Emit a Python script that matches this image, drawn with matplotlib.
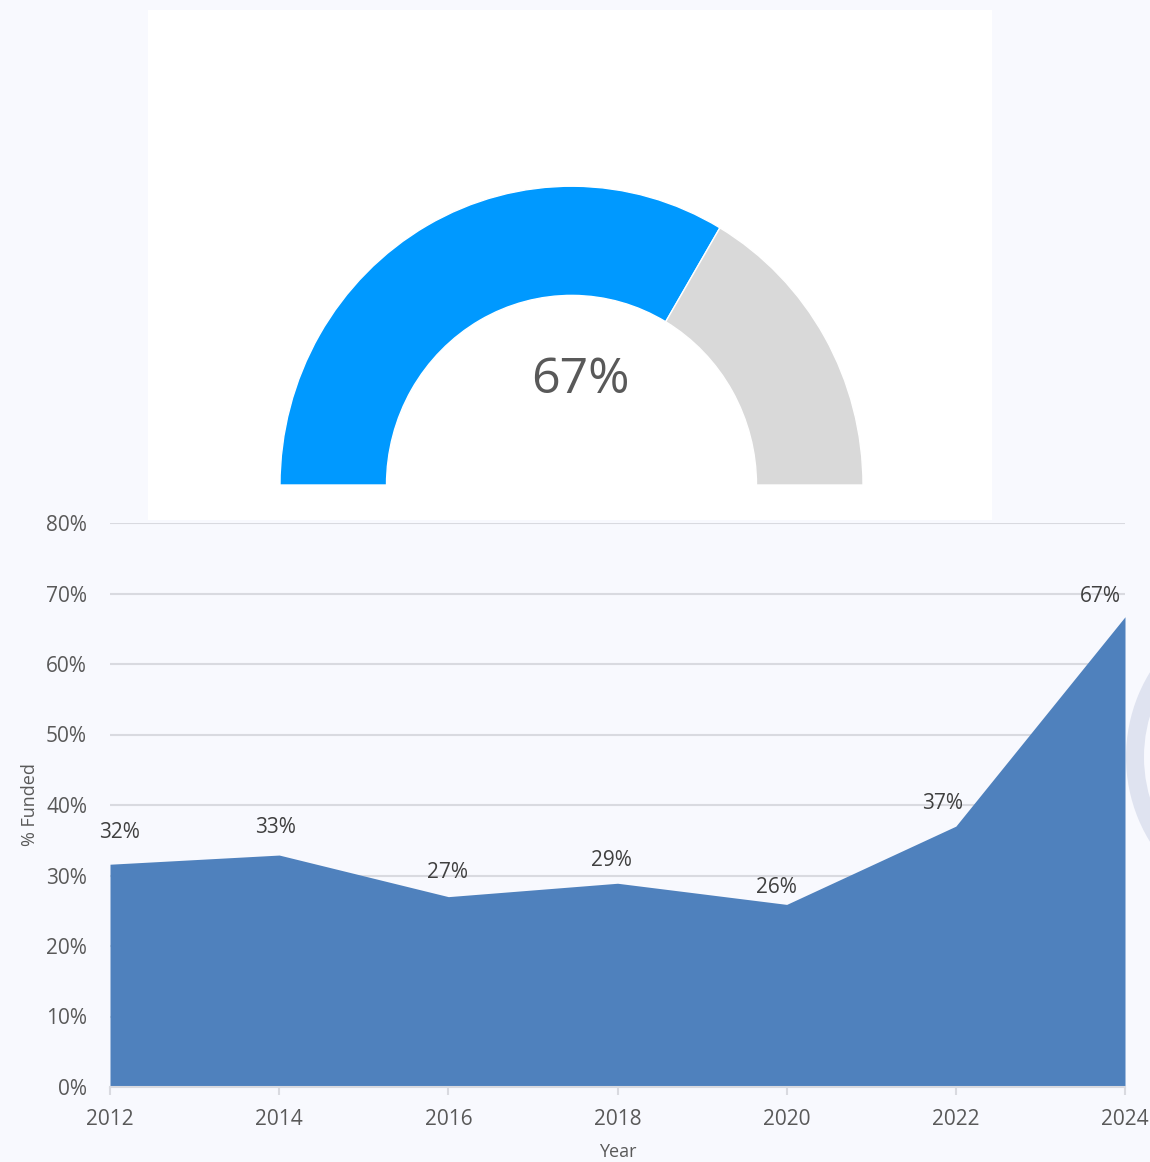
import matplotlib.pyplot as plt
from matplotlib.patches import Rectangle, Wedge

plt.rcParams["font.family"] = ["Open Sans", "DejaVu Sans"]

# funding history
years = [2012, 2014, 2016, 2018, 2020, 2022, 2024]
pct_funded = [31.6, 32.9, 27.0, 28.9, 25.9, 37.0, 66.7]
y_ticks = [0, 10, 20, 30, 40, 50, 60, 70, 80]
current_pct = 67

# value label offsets from each point, in pixels (x right, y up)
label_dx = [9, -4, -1, -6, -10, -13, -25]
label_dy = [32, 28, 24, 23, 17, 23, 20]

BG = "#f8f9fe"
AREA = "#4f81bd"
GAUGE_ON = "#0099ff"
GAUGE_OFF = "#d9d9d9"
GRID = "#d9dae0"

W, H = 1150, 1162
fig = plt.figure(figsize=(W / 100, H / 100), dpi=100, facecolor=BG)

# pixel-space layer for the white panel and the side ring
bg = fig.add_axes([0, 0, 1, 1], zorder=0)
bg.set_xlim(0, W)
bg.set_ylim(0, H)
bg.axis("off")
bg.add_patch(Rectangle((148, H - 520), 992 - 148, 510, facecolor="white",
                       edgecolor="none"))
bg.add_patch(Wedge((1288, H - 757), 162, 0, 360, width=18,
                   facecolor="#dfe3f0", edgecolor="none"))

# gauge layer, slightly stretched vertically
k = 1.025
gauge = fig.add_axes([0, 0, 1, 1], zorder=0.5)
gauge.set_xlim(0, W)
gauge.set_ylim(0, H / k)
gauge.axis("off")
cx, cy = 571.5, (H - 485) / k
r_out, band = 291.5, 106.5
split = 180 - current_pct / 100 * 180
gauge.add_patch(Wedge((cx, cy), r_out, split, 180, width=band,
                      facecolor=GAUGE_ON, edgecolor="white", linewidth=1))
gauge.add_patch(Wedge((cx, cy), r_out, 0, split, width=band,
                      facecolor=GAUGE_OFF, edgecolor="white", linewidth=1))
gauge.text(580, (H - 393) / k, f"{current_pct}%", ha="center", va="baseline",
           fontsize=36, color="#595959")

# area chart
ax = fig.add_axes([110 / W, 1 - 1087 / H, (1125 - 110) / W, (1087 - 523) / H],
                  zorder=1)
ax.set_facecolor("none")
ax.fill_between(years, pct_funded, 0, color=AREA, linewidth=0, zorder=2)

ax.set_xlim(years[0], years[-1])
ax.set_ylim(0, 80)
ax.set_xticks(years)
ax.set_yticks(y_ticks)
ax.set_yticklabels([f"{v}%" for v in y_ticks])
ax.grid(axis="y", color=GRID, linewidth=1.5, zorder=1)
ax.set_axisbelow(True)

for side in ["top", "right", "left"]:
    ax.spines[side].set_visible(False)
ax.spines["bottom"].set_color(GRID)
ax.spines["bottom"].set_linewidth(1.5)

ax.tick_params(axis="x", length=6, width=1.5, color=GRID, labelsize=15,
               labelcolor="#595959", pad=10)
ax.tick_params(axis="y", length=0, labelsize=15, labelcolor="#595959", pad=16.5)

ax.set_xlabel("Year", fontsize=13, color="#595959", labelpad=9)
ax.set_ylabel("% Funded", fontsize=13, color="#595959", labelpad=5)

for x, v, dx, dy in zip(years, pct_funded, label_dx, label_dy):
    ax.annotate(f"{v:.0f}%", (x, v), xytext=(dx * 0.72, dy * 0.72),
                textcoords="offset points", ha="center", va="center",
                fontsize=15, color="#404040", annotation_clip=False, zorder=3)

fig.savefig("out.png", dpi=100, facecolor=BG)
